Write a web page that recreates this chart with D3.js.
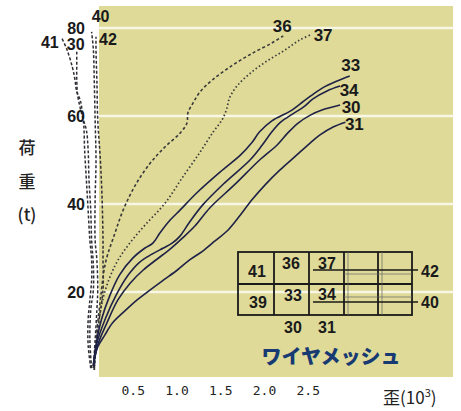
<!DOCTYPE html>
<html><head><meta charset="utf-8">
<script src="https://cdn.jsdelivr.net/npm/d3@7"></script>
<style>body{margin:0;background:#fff}svg{display:block}</style>
</head><body>
<svg id="c" width="461" height="411"></svg>
<script>
// ---------- data ----------
const xTicks = [0.5, 1.0, 1.5, 2.0, 2.5];
const yTicks = [20, 40, 60, 80];
// [strain (10^-3), load (t)]
const s33 = [[0.05,3.2],[0.08,8.0],[0.14,13.6],[0.24,19.3],[0.35,23.9],[0.50,27.7],[0.64,30.0],[0.73,31.1],[0.81,33.4],[0.93,36.4],[1.04,38.6],[1.23,42.5],[1.50,47.3],[1.73,51.1],[1.86,53.9],[1.95,56.4],[2.09,58.9],[2.30,61.1],[2.41,62.7],[2.53,64.5],[2.67,66.4],[2.83,67.9],[2.98,69.1]];
const s34 = [[0.05,3.2],[0.09,8.4],[0.19,14.1],[0.31,19.3],[0.45,23.9],[0.58,26.8],[0.72,28.6],[0.85,30.0],[0.95,31.1],[1.04,32.7],[1.15,35.9],[1.30,39.8],[1.55,44.8],[1.84,50.0],[1.98,53.4],[2.09,56.4],[2.19,58.6],[2.33,60.5],[2.45,62.0],[2.56,63.9],[2.72,65.7],[2.87,66.8]];
const s30 = [[0.05,3.2],[0.10,8.0],[0.21,13.2],[0.33,18.2],[0.47,22.0],[0.62,25.0],[0.78,27.5],[0.93,29.8],[1.07,32.3],[1.21,35.0],[1.38,39.1],[1.67,44.5],[1.95,50.0],[2.15,53.4],[2.27,56.1],[2.39,58.4],[2.53,60.2],[2.67,61.4],[2.87,62.5]];
const s31 = [[0.05,3.6],[0.10,7.5],[0.18,10.2],[0.27,13.0],[0.41,15.7],[0.55,18.2],[0.70,20.5],[0.85,22.7],[1.01,25.0],[1.15,27.3],[1.30,29.3],[1.44,31.6],[1.59,34.1],[1.73,37.5],[1.86,40.9],[2.01,44.3],[2.18,47.7],[2.35,50.7],[2.53,53.9],[2.64,55.7],[2.79,57.5],[2.93,58.6]];
const s36 = [[0.06,2.3],[0.08,9.1],[0.13,18.2],[0.19,26.8],[0.29,33.0],[0.39,38.6],[0.53,44.3],[0.70,49.3],[0.87,53.0],[1.04,56.1],[1.12,58.4],[1.13,60.7],[1.19,63.0],[1.27,65.5],[1.41,68.2],[1.63,71.4],[1.87,74.3],[2.09,76.6],[2.22,78.2]];
const s37 = [[0.06,2.3],[0.10,11.4],[0.17,19.3],[0.30,26.1],[0.45,30.7],[0.64,35.2],[0.87,40.2],[1.07,46.1],[1.27,51.8],[1.42,56.4],[1.52,59.1],[1.57,61.4],[1.61,64.3],[1.70,67.0],[1.86,70.0],[2.05,72.7],[2.24,75.0],[2.41,77.3],[2.55,78.6]];
const s41 = [[0.02,2.7],[-0.01,8.0],[-0.01,13.6],[0.01,18.2],[0.03,22.7],[0.03,27.3],[0.01,31.8],[-0.01,38.6],[-0.03,45.5],[-0.05,52.3],[-0.06,58.0],[-0.08,61.4],[-0.10,63.6],[-0.14,65.5],[-0.16,68.2],[-0.19,71.1],[-0.25,75.0],[-0.31,77.7]];
const s30v = [[0.03,2.7],[0.01,9.1],[0.02,15.9],[0.05,20.5],[0.05,26.1],[0.03,31.8],[0.02,38.6],[0.00,45.5],[-0.01,52.3],[-0.03,56.8],[-0.07,59.5],[-0.10,61.8],[-0.13,64.8],[-0.14,68.2],[-0.14,71.6],[-0.14,75.0]];
const s40 = [[0.05,2.7],[0.07,9.1],[0.09,15.9],[0.10,20.5],[0.09,27.3],[0.07,31.8],[0.07,40.9],[0.08,50.0],[0.07,59.1],[0.06,68.2],[0.05,75.0],[0.03,79.1]];
const s42 = [[0.06,2.7],[0.10,11.4],[0.16,20.5],[0.16,27.3],[0.16,31.8],[0.15,40.9],[0.13,50.0],[0.10,59.1],[0.09,68.2],[0.08,75.0],[0.08,78.0]];
const legendTop = ["41","36","37"];
const legendBottom = ["39","33","34"];
const legendCols = ["30","31"];
const legendRows = ["42","40"];

// ---------- series config (style + label placement) ----------
const series = [
  {name:"41", data:s41, kind:"dash",  dx:-12, dy:10, fs:16},
  {name:"30", data:s30v,kind:"dash",  dx:-1,  dy:0,  fs:16},
  {name:"40", data:s40, kind:"dash",  dx:9,   dy:-10,fs:16},
  {name:"42", data:s42, kind:"dash",  dx:12,  dy:8,  fs:16},
  {name:"36", data:s36, kind:"dash36",dx:-1,  dy:-4, fs:17},
  {name:"37", data:s37, kind:"dot",   dx:11,  dy:7,  fs:17},
  {name:"33", data:s33, kind:"solid", dx:1,   dy:-5, fs:17},
  {name:"34", data:s34, kind:"solid", dx:9,   dy:10, fs:17},
  {name:"30", data:s30, kind:"solid", dx:11,  dy:8,  fs:17},
  {name:"31", data:s31, kind:"solid", dx:9,   dy:8,  fs:17}
];
const styles = {
  solid: {stroke:"#1f2247", w:1.6, dash:null},
  dash:  {stroke:"#2e2e34", w:1.5, dash:"3,2"},
  dash36:{stroke:"#3a3a3a", w:1.6, dash:"3,2.4"},
  dot:   {stroke:"#3a3a3a", w:1.7, dash:"1.5,2.4"}
};

// ---------- drawing ----------
const svg = d3.select("#c");
const x = d3.scaleLinear().domain([0, 4]).range([89, 439]);
const y = d3.scaleLinear().domain([0, 80]).range([380, 28]);

svg.append("rect").attr("x",99).attr("y",6).attr("width",354).attr("height",371).attr("fill","#dfda98");

svg.append("g").selectAll("line").data(yTicks).join("line")
  .attr("x1",99).attr("x2",453).attr("y1",d=>y(d)).attr("y2",d=>y(d))
  .attr("stroke","#f8f6e4").attr("stroke-width",2.6);

const line = d3.line().x(d=>x(d[0])).y(d=>y(d[1])).curve(d3.curveCatmullRom.alpha(0.5));

svg.append("g").selectAll("path").data(series).join("path")
  .attr("d", d=>line(d.data))
  .attr("fill","none")
  .attr("stroke", d=>styles[d.kind].stroke)
  .attr("stroke-width", d=>styles[d.kind].w)
  .attr("stroke-dasharray", d=>styles[d.kind].dash)
  .attr("stroke-linejoin","round");

const labelFont = "'Liberation Sans', Arial, sans-serif";
svg.append("g").selectAll("text").data(series).join("text")
  .attr("x", d=>x(d.data[d.data.length-1][0]) + d.dx)
  .attr("y", d=>y(d.data[d.data.length-1][1]) + d.dy)
  .attr("text-anchor","middle")
  .attr("font-family",labelFont).attr("font-weight","bold").attr("font-size",d=>d.fs)
  .attr("fill","#1a1a1a")
  .text(d=>d.name);

// axes
const xa = svg.append("g").attr("transform","translate(0,380)")
  .call(d3.axisBottom(x).tickValues(xTicks).tickFormat(d3.format(".1f")).tickSize(0).tickPadding(6));
xa.select(".domain").remove();
xa.selectAll("text").attr("font-family","'DejaVu Sans Mono', monospace").attr("font-size",13).attr("fill","#222");

const ya = svg.append("g").attr("transform","translate(87,0)")
  .call(d3.axisLeft(y).tickValues(yTicks).tickSize(0).tickPadding(2));
ya.select(".domain").remove();
ya.selectAll("text").attr("font-family",labelFont).attr("font-weight","bold").attr("font-size",16).attr("fill","#1a1a1a");

// axis titles
const jp = "'Noto Sans CJK JP', sans-serif";
[["荷",154],["重",188],["(t)",221]].forEach(([t,yy])=>{
  svg.append("text").attr("x",27).attr("y",yy).attr("text-anchor","middle")
    .attr("font-family",jp).attr("font-size",17).attr("font-weight",500).attr("fill","#222").text(t);
});
const xt = svg.append("text").attr("x",383).attr("y",404)
  .attr("font-family",jp).attr("font-size",17).attr("fill","#222");
xt.append("tspan").text("歪(10");
xt.append("tspan").attr("dy",-7).attr("font-size",11).text("3");
xt.append("tspan").attr("dy",7).text(")");

// legend (mesh diagram)
const lg = svg.append("g");
const cols = [238,274,309,344,378,412];
const ly0 = 252, ly1 = 315, lym = 284;
lg.append("rect").attr("x",cols[0]).attr("y",ly0).attr("width",cols[5]-cols[0]).attr("height",ly1-ly0)
  .attr("fill","none").attr("stroke","#1a1a1a").attr("stroke-width",1.8);
cols.slice(1,5).forEach(cx=>lg.append("line").attr("x1",cx).attr("x2",cx).attr("y1",ly0).attr("y2",ly1).attr("stroke","#1a1a1a").attr("stroke-width",1.8));
lg.append("line").attr("x1",cols[0]).attr("x2",cols[5]).attr("y1",lym).attr("y2",lym).attr("stroke","#1a1a1a").attr("stroke-width",1.8);
[348,382].forEach(cx=>lg.append("line").attr("x1",cx).attr("x2",cx).attr("y1",ly0).attr("y2",ly1).attr("stroke","#666").attr("stroke-width",0.7));
[274,297].forEach(yy=>lg.append("line").attr("x1",344).attr("x2",412).attr("y1",yy).attr("y2",yy).attr("stroke","#666").attr("stroke-width",0.7));
[270,302].forEach(yy=>lg.append("line").attr("x1",313).attr("x2",418).attr("y1",yy).attr("y2",yy).attr("stroke","#1a1a1a").attr("stroke-width",1.6));
const lt = (t,xx,yy)=>lg.append("text").attr("x",xx).attr("y",yy).attr("text-anchor","middle")
  .attr("font-family",labelFont).attr("font-weight","bold").attr("font-size",16).attr("fill","#1a1a1a").text(t);
legendTop.forEach((t,i)=>lt(t,[257,291,327][i],[277,269,269][i]));
legendBottom.forEach((t,i)=>lt(t,[258,293,327][i],[308,301,300][i]));
legendCols.forEach((t,i)=>lt(t,[293,327][i],333));
legendRows.forEach((t,i)=>lt(t,430,[277,308][i]));
svg.append("text").attr("x",331).attr("y",364).attr("text-anchor","middle")
  .attr("font-family",jp).attr("font-weight",900).attr("font-size",20).attr("fill","#173a73")
  .text("ワイヤメッシュ");
</script>
</body></html>
